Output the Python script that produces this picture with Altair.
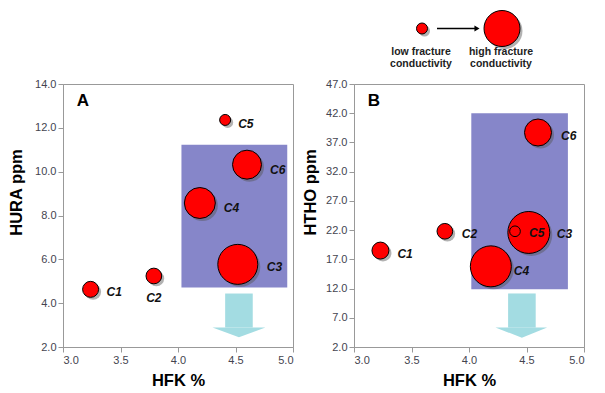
import altair as alt
import pandas as pd

# ---------------- data ----------------
labels = ["C1", "C2", "C3", "C4", "C5", "C6"]
hfk_a = [3.24, 3.79, 4.52, 4.19, 4.41, 4.60]
hura = [4.63, 5.24, 5.77, 8.57, 12.36, 10.32]
cond_a = [2.56, 2.46, 16.0, 9.6, 1.21, 8.4]

hfk_b = [3.23, 3.79, 4.52, 4.19, 4.40, 4.60]
htho = [18.5, 21.8, 21.6, 15.8, 21.8, 38.7]
cond_b = [2.89, 2.46, 17.6, 16.8, 1.14, 7.3]

x_ticks = [3.0, 3.5, 4.0, 4.5, 5.0]
y_ticks_a = [2, 4, 6, 8, 10, 12, 14]
y_ticks_b = [2, 7, 12, 17, 22, 27, 32, 37, 42, 47]

box_a = [4.03, 4.95, 4.71, 11.23]      # x, x2, y, y2
box_b = [4.02, 4.86, 11.9, 42.0]
shaft_a = [4.41, 4.65, 2.89, 4.44]
head_a_x = [4.30, 4.53, 4.76]
head_a_y = [2.89, 2.44, 2.89]
shaft_b = [4.34, 4.58, 5.32, 11.16]
head_b_x = [4.23, 4.46, 4.68]
head_b_y = [5.32, 3.60, 5.32]

legend_cond = [1.21, 12.96]
legend_text = ["low fracture\nconductivity", "high fracture\nconductivity"]

# ---------------- styles ----------------
FONT = "Arial"
RED = "#ff0000"
BOX = "#8686c9"
ARROW = "#a3dce2"
# Vega circle: diameter = sqrt(size)
SIZE_SCALE = alt.Scale(domain=[0, 20], range=[0, 2000], zero=True)

label_style_a = {"C1": (16, 3, "left"), "C2": (0, 22, "center"), "C3": (29, 3, "left"),
                 "C4": (24, 5, "left"), "C5": (13, 4, "left"), "C6": (23, 5, "left")}
label_style_b = {"C1": (17, 3, "left"), "C2": (17, 3, "left"), "C3": (28, 2, "left"),
                 "C4": (23, 5, "left"), "C5": (14, 2, "left"), "C6": (23, 3, "left")}


def panel(xs, ys, conds, ytitle, ydomain, yticks, box, shaft, head_x, head_y,
          letter, styles, title_x, legend=False):
    df = pd.DataFrame({"hfk": xs, "val": ys, "cond": conds, "name": labels})

    def X(field="hfk"):
        return alt.X(f"{field}:Q",
                     scale=alt.Scale(domain=[3, 5], nice=False, zero=False),
                     axis=alt.Axis(values=x_ticks, format=".1f", title="HFK %",
                                   titleY=33, titleBaseline="middle"))

    def Y(field="val"):
        return alt.Y(f"{field}:Q",
                     scale=alt.Scale(domain=ydomain, nice=False, zero=False),
                     axis=alt.Axis(values=yticks, format=".1f", title=ytitle,
                                   titleX=title_x, titleY=108, titleBaseline="middle"))

    box_df = pd.DataFrame({"hfk": [box[0]], "hfk2": [box[1]], "val": [box[2]], "val2": [box[3]]})
    rect = alt.Chart(box_df).mark_rect(color=BOX).encode(
        x=X(), x2="hfk2:Q", y=Y(), y2="val2:Q")

    shaft_df = pd.DataFrame({"hfk": [shaft[0]], "hfk2": [shaft[1]], "val": [shaft[2]], "val2": [shaft[3]]})
    shaft_m = alt.Chart(shaft_df).mark_rect(color=ARROW).encode(
        x=X(), x2="hfk2:Q", y=Y(), y2="val2:Q")

    head_df = pd.DataFrame({"hfk": head_x, "val": head_y, "val2": [head_y[0]] * 3})
    head_m = alt.Chart(head_df).mark_area(color=ARROW, opacity=1).encode(
        x=X(), y=Y(), y2="val2:Q")

    shadow = alt.Chart(df).mark_circle(color="#555555", opacity=0.45, xOffset=2.5, yOffset=2.5).encode(
        x=X(), y=Y(), size=alt.Size("cond:Q", scale=SIZE_SCALE, legend=None),
        order=alt.Order("cond:Q", sort="descending"))
    dots = alt.Chart(df).mark_circle(color=RED, opacity=1, stroke="black", strokeWidth=1).encode(
        x=X(), y=Y(), size=alt.Size("cond:Q", scale=SIZE_SCALE, legend=None),
        order=alt.Order("cond:Q", sort="descending"))

    layers = [rect, shaft_m, head_m, shadow, dots]
    for nm, (dx, dy, al) in styles.items():
        layers.append(
            alt.Chart(df).transform_filter(alt.datum.name == nm).mark_text(
                font=FONT, fontStyle="italic", fontWeight="bold", fontSize=12,
                align=al, baseline="middle", dx=dx, dy=dy, color="#111111"
            ).encode(x=X(), y=Y(), text="name:N"))

    layers.append(
        alt.Chart(pd.DataFrame({"t": [letter]})).mark_text(
            font=FONT, fontWeight="bold", fontSize=17, color="black",
            align="center", baseline="middle"
        ).encode(x=alt.value(20), y=alt.value(17), text="t:N"))

    if legend:
        lx = [68, 148]
        ly = -55.5
        for i in range(2):
            ldf = pd.DataFrame({"cond": [legend_cond[i]], "t": [legend_text[i]]})
            layers.append(alt.Chart(ldf).mark_circle(color="#555555", opacity=0.45, xOffset=2.5, yOffset=2.5).encode(
                x=alt.value(lx[i]), y=alt.value(ly),
                size=alt.Size("cond:Q", scale=SIZE_SCALE, legend=None)))
            layers.append(alt.Chart(ldf).mark_circle(color=RED, opacity=1, stroke="black", strokeWidth=1).encode(
                x=alt.value(lx[i]), y=alt.value(ly),
                size=alt.Size("cond:Q", scale=SIZE_SCALE, legend=None)))
            layers.append(alt.Chart(ldf).mark_text(
                font=FONT, fontWeight="bold", fontSize=10.5, color="#222222",
                align="center", baseline="middle", lineBreak="\n", lineHeight=12
            ).encode(x=alt.value(lx[i] - 1), y=alt.value(ly + 23.5), text="t:N"))
        adf = pd.DataFrame({"k": [0]})
        layers.append(alt.Chart(adf).mark_rule(color="black", strokeWidth=1.5).encode(
            x=alt.value(83), x2=alt.value(121), y=alt.value(ly)))
        layers.append(alt.Chart(adf).mark_point(shape="triangle-right", filled=True, color="black",
                                                 size=35, opacity=1).encode(
            x=alt.value(123), y=alt.value(ly)))

    return alt.layer(*layers).properties(width=230, height=263)


pa = panel(hfk_a, hura, cond_a, "HURA ppm", [2, 14], y_ticks_a, box_a, shaft_a,
           head_a_x, head_a_y, "A", label_style_a, -46.5)
pb = panel(hfk_b, htho, cond_b, "HTHO ppm", [2, 47], y_ticks_b, box_b, shaft_b,
           head_b_x, head_b_y, "B", label_style_b, -43.5, legend=True)

chart = alt.hconcat(pa, pb, spacing=8).properties(
    padding={"left": 0, "top": 0, "right": 5, "bottom": 5}
).configure_view(stroke="#999999", strokeWidth=1).configure_axis(
    grid=False, domainColor="#999999", tickColor="#999999", tickSize=5,
    labelPadding=2, labelFont=FONT, labelFontSize=11, labelColor="#44444f",
    titleFont=FONT, titleFontSize=16.5, titleFontWeight="bold", titleColor="black"
).resolve_scale(x="independent", y="independent", size="independent")

chart.save("out.html", embed_options={"renderer": "svg", "actions": False})
